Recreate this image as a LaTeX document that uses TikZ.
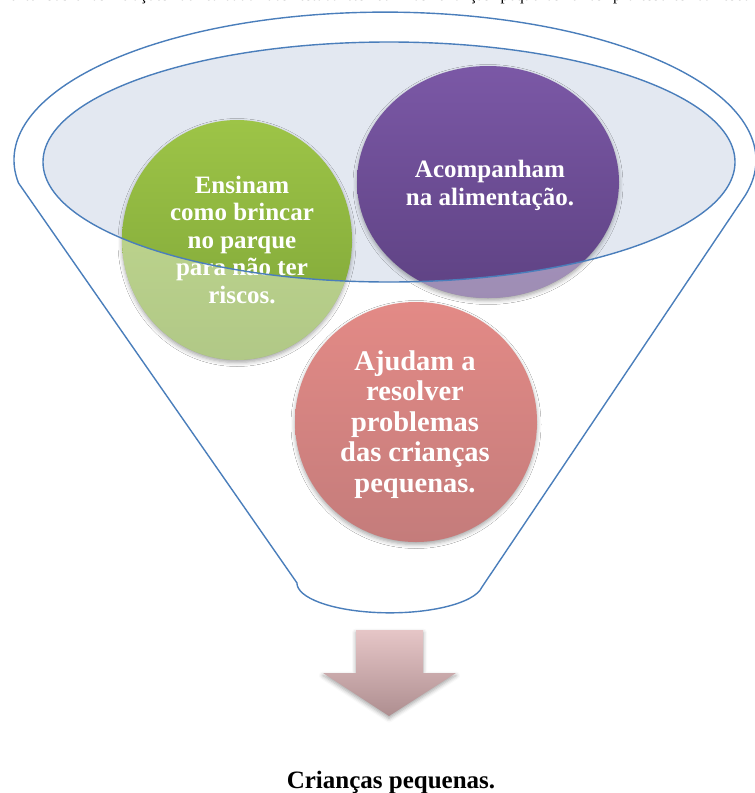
\documentclass[tikz,border=0pt]{standalone}
\usepackage{fontspec}
\setmainfont{Liberation Serif}
\usetikzlibrary{shadows.blur}

\definecolor{funnelblue}{HTML}{4A7EBB}
\definecolor{rimfill}{HTML}{E3E8F1}
\definecolor{greentop}{HTML}{9DC447}
\definecolor{greenbot}{HTML}{7DA437}
\definecolor{purpletop}{HTML}{7B58A6}
\definecolor{purplebot}{HTML}{5E4283}
\definecolor{redtop}{HTML}{E38A86}
\definecolor{redbot}{HTML}{C47C7B}
\definecolor{arrowtop}{HTML}{E6C6C7}
\definecolor{arrowbot}{HTML}{AE8E90}

\tikzset{
  outline/.style={draw=funnelblue, line width=1.4pt},
  softshadow/.style={blur shadow={shadow xshift=0pt, shadow yshift=-2.5pt,
      shadow blur radius=4pt, shadow opacity=35}},
  bubble/.style={softshadow, top color=#1top, bottom color=#1bot},
  % multi-line nodes: the base anchor sits on the last line
  bubbletext/.style={text=white, align=center, inner sep=0pt, anchor=base,
      font=\bfseries\fontsize{25}{27.5}\selectfont},
}

\begin{document}
\begin{tikzpicture}[x=1pt, y=-1pt]
\useasboundingbox (0,0) rectangle (755,793);

% last line of the running paragraph above, cut by the page top
\begin{scope}
  \clip (0,0) rectangle (755,7);
  \node[anchor=base west, inner sep=0pt, font=\fontsize{16}{18}\selectfont]
    (paragraph) at (-3,0.3)
    {\hbox to 765pt{mente sobre as relações de cuidado dos estudantes com as crianças pequenas e os professores da escola}};
\end{scope}

% funnel body
\draw[outline, fill=white]
  (18.5,183) arc[start angle=171.1, end angle=373.7, x radius=371, y radius=148]
  -- (482,587)
  arc[start angle=8, end angle=180, x radius=93, y radius=30]
  -- cycle;

% funnel mouth
\fill[rimfill] (389,162) ellipse[x radius=346, y radius=120];

% bubbles
\path[bubble=green]  (237,240) ellipse[x radius=115, y radius=120];
\path[bubble=purple] (488,182) ellipse[x radius=131, y radius=116];
\path[bubble=red]    (416,422) ellipse[x radius=121, y radius=120];

% parts of the bubbles hanging below the mouth look faded
\begin{scope}
  \clip (237,240) ellipse[x radius=115, y radius=120];
  \fill[white, fill opacity=.4, even odd rule]
    (0,0) rectangle (755,793) (389,162) ellipse[x radius=346, y radius=120];
\end{scope}
\begin{scope}
  \clip (488,182) ellipse[x radius=131, y radius=116];
  \fill[white, fill opacity=.4, even odd rule]
    (0,0) rectangle (755,793) (389,162) ellipse[x radius=346, y radius=120];
\end{scope}

% bubble texts
\node[bubbletext] (ensinam) at (242,303)
  {Ensinam\\como brincar\\no parque\\para não ter\\riscos.};
\node[bubbletext] (acompanham) at (490,205)
  {Acompanham\\na alimentação.};
\node[bubbletext, font=\bfseries\fontsize{28.5}{30.5}\selectfont] (ajudam) at (415,492)
  {Ajudam a\\resolver\\problemas\\das crianças\\pequenas.};

% rim of the mouth
\draw[outline] (389,162) ellipse[x radius=346, y radius=120];

% downward arrow
\path[softshadow, top color=arrowtop, bottom color=arrowbot]
  (356,630) -- (423,630) -- (423,673) -- (456,673) -- (389,716)
  -- (323,673) -- (356,673) -- cycle;

% outcome
\node[anchor=base, inner sep=0pt, font=\bfseries\fontsize{25}{28}\selectfont]
  (outcome) at (391,788) {Crianças pequenas.};
\end{tikzpicture}
\end{document}
